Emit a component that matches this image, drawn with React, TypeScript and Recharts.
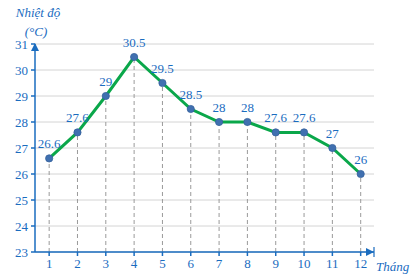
import React from 'react';
import { LineChart, Line, XAxis, YAxis, CartesianGrid, ReferenceLine, ReferenceDot, LabelList } from 'recharts';

const months = [1, 2, 3, 4, 5, 6, 7, 8, 9, 10, 11, 12];
const temps = [26.6, 27.6, 29, 30.5, 29.5, 28.5, 28, 28, 27.6, 27.6, 27, 26];
const yTicks = [23, 24, 25, 26, 27, 28, 29, 30, 31];

const data = months.map((m, i) => ({ m, t: temps[i] }));

const BLUE = '#1a6cbf';
const GREEN = '#0aa74a';
const FONT = '"Liberation Serif", "DejaVu Serif", serif';

const UpArrow = (p: any) => (
  <path d={`M${p.cx},${p.cy - 1} L${p.cx - 4},${p.cy + 7} L${p.cx + 4},${p.cy + 7} Z`} fill={BLUE} />
);
const RightArrow = (p: any) => (
  <g>
    <path d={`M${p.cx},${p.cy} L${p.cx - 8},${p.cy - 4} L${p.cx - 8},${p.cy + 4} Z`} fill={BLUE} />
    <line x1={p.cx} y1={p.cy - 5} x2={p.cx} y2={p.cy + 5} stroke={BLUE} strokeWidth={1.2} />
  </g>
);

const Dot = (p: any) => (
  <circle cx={p.cx} cy={p.cy} r={3.6} fill="#4070b0" stroke="#35619c" strokeWidth={0.8} />
);

const YTitle = () => (
  <g fontFamily={FONT} fontStyle="italic" fontSize={13} fill={BLUE}>
    <text x={38} y={17} textAnchor="middle">Nhiệt độ</text>
    <text x={36} y={36} textAnchor="middle">(°C)</text>
  </g>
);
const XTitle = () => (
  <text x={376} y={271} fontFamily={FONT} fontStyle="italic" fontSize={13} fill={BLUE}>Tháng</text>
);

export default function App() {
  return (
    <div style={{ position: 'absolute', left: 0, top: 0 }}>
      <LineChart width={416} height={278} data={data} margin={{ top: 44, right: 42, bottom: 1, left: 0 }}>
        <CartesianGrid vertical={false} stroke="#d4d4d4" strokeWidth={1} />
        <XAxis
          dataKey="m"
          type="number"
          domain={[0.5, 12.47]}
          ticks={months}
          interval={0}
          height={25}
          tickSize={4}
          tickMargin={3}
          stroke={BLUE}
          strokeWidth={1.5}
          tick={{ fill: BLUE, fontFamily: FONT, fontSize: 13 }}
          allowDataOverflow
          label={<XTitle />}
        />
        <YAxis
          type="number"
          domain={[23, 31]}
          ticks={yTicks}
          interval={0}
          width={35}
          tickSize={4}
          tickMargin={3}
          stroke={BLUE}
          strokeWidth={1.5}
          tick={{ fill: BLUE, fontFamily: FONT, fontSize: 13 }}
          label={<YTitle />}
        />
        {data.map((d) => (
          <ReferenceLine
            key={d.m}
            segment={[{ x: d.m, y: 23 }, { x: d.m, y: d.t }]}
            stroke="#9a9a9a"
            strokeDasharray="4 3"
            strokeWidth={1}
          />
        ))}
        <ReferenceDot x={0.5} y={31} r={0} shape={UpArrow} ifOverflow="visible" />
        <ReferenceDot x={12.47} y={23} r={0} shape={RightArrow} ifOverflow="visible" />
        <Line
          dataKey="t"
          stroke={GREEN}
          strokeWidth={3}
          dot={<Dot />}
          activeDot={false}
          isAnimationActive={false}
        >
          <LabelList dataKey="t" position="top" offset={10} fill={BLUE} fontFamily={FONT} fontSize={13} />
        </Line>
      </LineChart>
    </div>
  );
}
